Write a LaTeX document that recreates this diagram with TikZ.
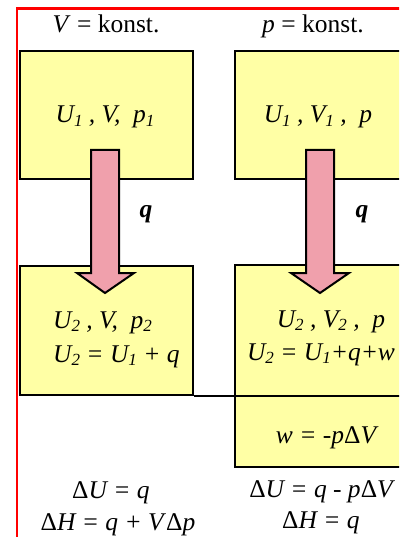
\documentclass[tikz,border=0pt]{standalone}
\usepackage{fontspec}
\setmainfont{Liberation Serif}
\definecolor{boxyellow}{RGB}{255,255,165}
\definecolor{arrowpink}{RGB}{240,160,172}
\newcommand\mysub[1]{\raisebox{-0.3ex}{\fontsize{17}{17}\selectfont #1}}
\begin{document}
\begin{tikzpicture}[x=1pt,y=-1pt,
  box/.style={draw=black,line width=2pt,fill=boxyellow,inner sep=0pt,anchor=north west},
  arr/.style={draw=black,line width=2pt,fill=arrowpink,line join=miter},
  lbl/.style={font=\fontsize{25.5}{30}\selectfont\itshape,inner sep=0pt},
  hdr/.style={font=\fontsize{25.5}{30}\selectfont,inner sep=0pt},
  qlbl/.style={font=\fontsize{25.5}{30}\selectfont\bfseries\itshape,inner sep=0pt}]
\useasboundingbox (0,0) rectangle (399,537);
\clip (0,0) rectangle (399,537);
\fill[white] (0,0) rectangle (399,537);
% boxes
\node[box,minimum width=173pt,minimum height=128pt] (lt) at (19,50) {};
\node[box,minimum width=173pt,minimum height=129pt] (lb) at (19,265) {};
\node[box,minimum width=186pt,minimum height=128pt] (rt) at (234,50) {};
\node[box,minimum width=186pt,minimum height=202pt] (rb) at (234,264) {};
\draw[line width=1.2pt] (lb.south east) -- (lb.south east -| rb.east);
% block arrows
\draw[arr] (91,150) -- (119,150) -- (119,273) -- (134,273) -- (105,293) -- (77,273) -- (91,273) -- cycle;
\draw[arr] (306,150) -- (334,150) -- (334,273) -- (349,273) -- (320,293) -- (291,273) -- (306,273) -- cycle;
% red frame
\draw[red,line width=2.2pt] (17,600) -- (17,8.5) -- (420,8.5);
% headers
\node[hdr,anchor=base] (h1) at (106,33) {\textit{V} = konst.};
\node[hdr,anchor=base] (h2) at (313,33) {\textit{p} = konst.};
% texts
\node[lbl,anchor=base] (t1) at (105,123) {U\mysub{1} , V,\ \ p\mysub{1}};
\node[lbl,anchor=base] (t2) at (318,123) {U\mysub{1} , V\mysub{1} ,\ \ p};
\node[qlbl,anchor=base] (q1) at (146,218) {q};
\node[qlbl,anchor=base] (q2) at (362,217) {q};
\node[lbl,anchor=base west] (t3) at (53,328) {U\mysub{2} , V,\ \ p\mysub{2}};
\node[lbl,anchor=base west] (t4) at (53,362) {U\mysub{2} = U\mysub{1} + q};
\node[lbl,anchor=base] (t5) at (331,327) {U\mysub{2} , V\mysub{2} ,\ \ p};
\node[lbl,anchor=base] (t6) at (321,360) {U\mysub{2} = U\mysub{1}+q+w};
\node[lbl,anchor=base] (t7) at (326,443) {w = -p\textup{Δ}V};
\node[lbl,anchor=base] (t8) at (111,498) {\textup{Δ}U = q};
\node[lbl,anchor=base] (t9) at (118,530) {\textup{Δ}H = q + V\textup{Δ}p};
\node[lbl,anchor=base] (t10) at (321,497) {\textup{Δ}U = q - p\textup{Δ}V};
\node[lbl,anchor=base] (t11) at (321,528) {\textup{Δ}H = q};
\end{tikzpicture}
\end{document}
